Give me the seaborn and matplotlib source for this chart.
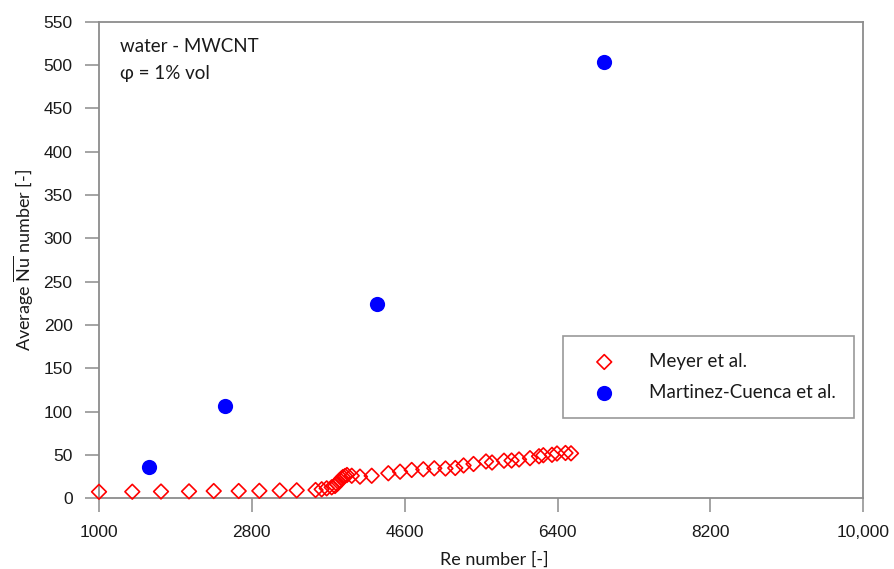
import matplotlib
matplotlib.use("Agg")
import matplotlib.pyplot as plt
import seaborn as sns
import pandas as pd

# Data
meyer_re = [1000, 1392, 1730, 2060, 2351, 2645, 2888, 3128, 3328, 3550,
            3622, 3681, 3740, 3779, 3803, 3820, 3838, 3856, 3873, 3897, 3920,
            3976, 4073, 4211, 4407, 4545, 4682, 4819, 4948, 5080, 5195, 5293,
            5410, 5557, 5628, 5769, 5858, 5946, 6075, 6181, 6232, 6334, 6393,
            6493, 6558]
meyer_nu = [7.5, 7.6, 7.8, 8.0, 8.4, 8.4, 8.6, 9.0, 9.2, 9.6,
            10.4, 11.5, 12.7, 14.2, 16.5, 18.8, 21.1, 22.9, 24.6, 25.7, 26.9,
            26.0, 25.0, 26.0, 28.9, 30.7, 32.7, 33.5, 34.6, 34.4, 35.0, 37.9,
            39.6, 42.5, 41.3, 43.4, 43.6, 44.8, 46.3, 48.5, 49.7, 50.2, 51.7,
            52.3, 51.9]
mc_re = [1592, 2487, 4270, 6950]
mc_nu = [36.5, 106.2, 224.2, 503.5]

series_names = ["Meyer et al.", "Martinez-Cuenca et al."]
x_ticks = [1000, 2800, 4600, 6400, 8200, 10000]
x_tick_labels = ["1000", "2800", "4600", "6400", "8200", "10,000"]
y_ticks = list(range(0, 551, 50))

sns.set_theme(style="white")
plt.rcParams["font.family"] = ["Lato", "DejaVu Sans"]
plt.rcParams["mathtext.fontset"] = "custom"
plt.rcParams["mathtext.rm"] = "Lato"

W, H = 894, 569
fig = plt.figure(figsize=(W / 100, H / 100), dpi=100)
ax = fig.add_axes([99 / W, 1 - 498.3 / H, (863.3 - 99) / W, (498.3 - 21.7) / H])

df_m = pd.DataFrame({"Re": meyer_re, "Nu": meyer_nu})
df_c = pd.DataFrame({"Re": mc_re, "Nu": mc_nu})

sns.scatterplot(data=df_m, x="Re", y="Nu", ax=ax, marker="D", s=56,
                facecolor="none", edgecolor="#FF0000", linewidth=1.2,
                clip_on=False, zorder=3, label=series_names[0])
sns.scatterplot(data=df_c, x="Re", y="Nu", ax=ax, marker="o", s=120,
                color="#0000FF", edgecolor="#0000FF", linewidth=0,
                clip_on=False, zorder=3, label=series_names[1])

ax.set_xlim(1000, 10000)
ax.set_ylim(0, 550)
ax.set_xticks(x_ticks)
ax.set_xticklabels(x_tick_labels)
ax.set_yticks(y_ticks)

spine_col = "#8C8C8C"
for sp in ax.spines.values():
    sp.set_visible(True)
    sp.set_color(spine_col)
    sp.set_linewidth(1.3)

ax.tick_params(axis="both", which="major", direction="out", length=10,
               width=1.1, color=spine_col, labelsize=12.5, labelcolor="#1a1a1a",
               bottom=True, left=True, labelfontfamily="Liberation Sans")
ax.tick_params(axis="x", pad=9)
ax.tick_params(axis="y", pad=9)

ax.set_xlabel("Re number [-]", fontsize=13, color="#1a1a1a")
ax.set_ylabel(r"Average $\overline{\mathrm{Nu}}$ number [-]", fontsize=13,
              color="#1a1a1a")
ax.xaxis.set_label_coords((494.5 - 99) / (863.3 - 99), -0.112)
ax.yaxis.set_label_coords(-(99 - 36) / (863.3 - 99), 0.5)

ax.text(120 / W, 1 - 46 / H, "water - MWCNT", transform=fig.transFigure,
        fontsize=13.5, color="#1a1a1a", va="center", ha="left")
ax.text(120 / W, 1 - 73 / H, "φ = 1% vol", transform=fig.transFigure,
        fontsize=13.5, color="#1a1a1a", va="center", ha="left")

leg = ax.legend(loc="upper left",
                bbox_to_anchor=(563 / W, 1 - 336 / H, (854 - 563) / W, 0.0),
                bbox_transform=fig.transFigure, mode="expand",
                frameon=True, fancybox=False, framealpha=1, edgecolor="#999999",
                fontsize=13.5, borderpad=0.9, handlelength=2.6,
                handletextpad=1.1, labelspacing=0.75, borderaxespad=0,
                markerscale=1.0)
leg.get_frame().set_linewidth(1.2)
for t in leg.get_texts():
    t.set_color("#1a1a1a")

fig.savefig("out.png", dpi=100)
